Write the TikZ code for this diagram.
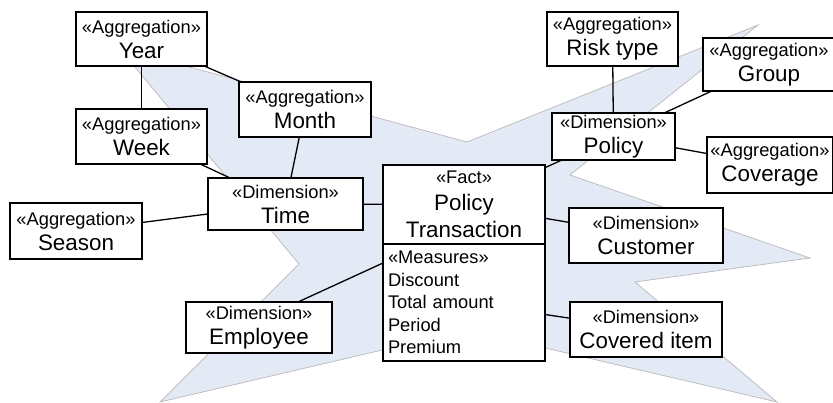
\documentclass[tikz,border=0pt]{standalone}
\usepackage{fontspec}
\setmainfont{Liberation Sans}
\usetikzlibrary{positioning}
\definecolor{relleno}{RGB}{227,233,245}
\definecolor{borde}{RGB}{185,185,185}
\newcommand{\estereo}[1]{{\fontsize{18.3}{25}\selectfont«#1»}}
\newcommand{\nombre}[1]{{\fontsize{22.4}{25}\selectfont #1}}
\tikzset{
  caja/.style n args={2}{draw,line width=1.5pt,fill=white,align=center,inner sep=0pt,outer sep=0pt,
    minimum width=#1,minimum height=#2,font=\fontsize{18.3}{25}\selectfont},
  estrella/.style={fill=relleno,draw=borde,line width=0.7pt,line join=miter},
  enlace/.style={line width=1.3pt}
}
\begin{document}
\begin{tikzpicture}[x=1pt,y=-1pt]
	\useasboundingbox (0,0) rectangle (833,403);
	\filldraw[estrella] (119,48) -- (467,142) -- (758,25) -- (570,175) -- (810,258) -- (635,282)
		-- (777,402) -- (468,330) -- (160,402) -- (299,264) -- cycle;

	\node[caja={131pt}{54pt}] (year) at (141.5,39) {\estereo{Aggregation}\\\nombre{Year}};
	\node[caja={131pt}{55pt}] (week) at (141.5,136.5) {\estereo{Aggregation}\\\nombre{Week}};
	\node[caja={132pt}{55pt}] (month) at (305,109.5) {\estereo{Aggregation}\\\nombre{Month}};
	\node[caja={155pt}{52pt}] (time) at (285.5,204) {\estereo{Dimension}\\\nombre{Time}};
	\node[caja={132pt}{56pt}] (season) at (76,231) {\estereo{Aggregation}\\\nombre{Season}};
	\node[caja={146pt}{51pt}] (employee) at (259,327.5) {\estereo{Dimension}\\\nombre{Employee}};

	\node[caja={162pt}{79pt},font=\fontsize{22.4}{27}\selectfont] (fact) at (464,204.5)
		{{\fontsize{18.3}{27}\selectfont«Fact»}\\Policy\\Transaction};
	\node[caja={162pt}{117pt},below=0pt of fact,align=left,text width=152pt,inner xsep=5pt,
		font=\fontsize{18.3}{22.5}\selectfont] (measures)
		{«Measures»\\Discount\\Total amount\\Period\\Premium};

	\node[caja={131pt}{54pt}] (risk) at (612.5,39) {\estereo{Aggregation}\\\nombre{Risk type}};
	\node[caja={132pt}{53pt}] (group) at (769,64.5) {\estereo{Aggregation}\\\nombre{Group}};
	\node[caja={123pt}{47pt}] (policy) at (613.5,136.5) {\estereo{Dimension}\\\nombre{Policy}};
	\node[caja={126pt}{56pt}] (coverage) at (770,165) {\estereo{Aggregation}\\\nombre{Coverage}};
	\node[caja={154pt}{55pt}] (customer) at (646,235.5) {\estereo{Dimension}\\\nombre{Customer}};
	\node[caja={152pt}{55pt}] (covered) at (646,329.5) {\estereo{Dimension}\\\nombre{Covered item}};

	\foreach \Desde/\Hasta in {year/week,year/month,week/time,month/time,season/time,time/fact,
		fact/policy,risk/policy,group/policy,policy/coverage,fact/customer,measures/covered} {
		\draw[enlace] (\Desde) -- (\Hasta);
	}
	\draw[enlace] ([xshift=39pt]employee.north) -- ([yshift=-19pt]measures.north west);
\end{tikzpicture}
\end{document}
